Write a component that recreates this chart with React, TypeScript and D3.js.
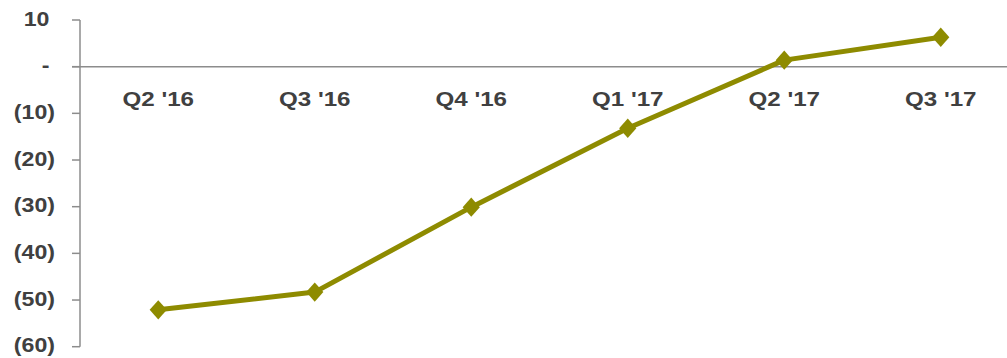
import React from "react";
import * as d3 from "d3";

const categories = ["Q2 '16", "Q3 '16", "Q4 '16", "Q1 '17", "Q2 '17", "Q3 '17"];
const values = [-52.1, -48.3, -30.1, -13.2, 1.4, 6.3];
const yTicks = [10, 0, -10, -20, -30, -40, -50, -60];

const W = 1007;
const H = 358;
const axisX = 80;
const lineColor = "#8E8B00";
const textColor = "#404040";
const axisColor = "#8C8C8C";
const font = "'Liberation Sans', Arial, sans-serif";
const sx = 1.13;

function fmt(v: number): string {
  if (v === 0) return "-";
  if (v < 0) return `(${Math.abs(v)})`;
  return `${v}`;
}

export default function App() {
  const y = d3.scaleLinear().domain([-60, 10]).range([346.7, 20]);
  const x = d3.scaleBand<string>().domain(categories).range([axisX, 1019]);
  const cx = (c: string) => (x(c) as number) + x.bandwidth() / 2;

  const line = d3
    .line<number>()
    .x((_, i) => cx(categories[i]))
    .y((d) => y(d));

  const diamond = (px: number, py: number) =>
    `M${px},${py - 9.7} L${px + 8.6},${py} L${px},${py + 9.7} L${px - 8.6},${py} Z`;

  return (
    <svg
      width={W}
      height={H}
      style={{ position: "absolute", left: 0, top: 0, background: "#fff" }}
    >
      {/* y axis */}
      <line x1={axisX} x2={axisX} y1={y(10)} y2={y(-60)} stroke={axisColor} strokeWidth={1.5} />
      {yTicks.map((t) => (
        <g key={t}>
          <line x1={72} x2={axisX} y1={y(t)} y2={y(t)} stroke={axisColor} strokeWidth={1.5} />
          <text
            transform={`translate(${t < 0 ? 55 : 49.5},${y(t) + 5.6}) scale(${sx},1)`}
            textAnchor="end"
            fontFamily={font}
            fontWeight="bold"
            fontSize={20.5}
            fill={textColor}
          >
            {fmt(t)}
          </text>
        </g>
      ))}
      {/* zero line */}
      <line x1={72} x2={W} y1={y(0)} y2={y(0)} stroke={axisColor} strokeWidth={1.5} />
      {/* category labels */}
      {categories.map((c) => (
        <text
          key={c}
          transform={`translate(${cx(c)},106) scale(1.15,1)`}
          textAnchor="middle"
          fontFamily={font}
          fontWeight="bold"
          fontSize={21}
          fill={textColor}
        >
          {c}
        </text>
      ))}
      {/* series */}
      <path d={line(values) || ""} fill="none" stroke={lineColor} strokeWidth={5} strokeLinejoin="round" />
      {values.map((v, i) => (
        <path key={i} d={diamond(cx(categories[i]), y(v))} fill={lineColor} />
      ))}
    </svg>
  );
}
